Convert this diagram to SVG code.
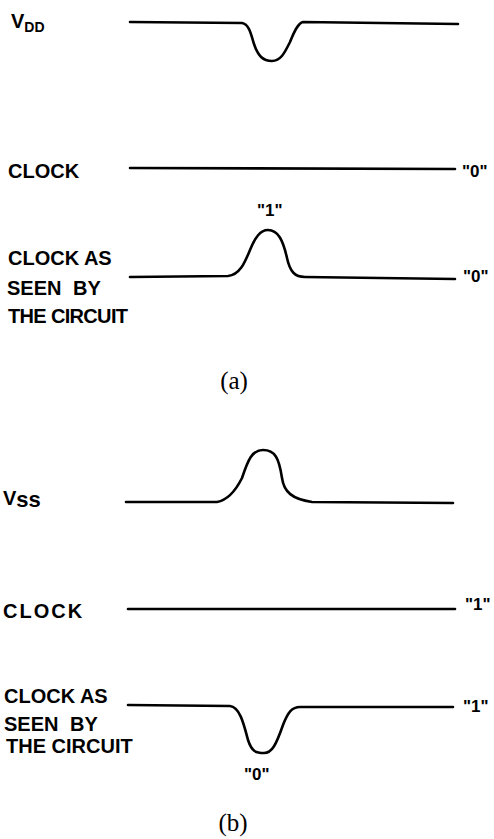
<svg xmlns="http://www.w3.org/2000/svg" width="494" height="839" viewBox="0 0 494 839">
<style>
.lbl{font-family:"Liberation Sans",Arial,sans-serif;font-weight:bold;font-size:20px;fill:#000}
.val{font-family:"Liberation Sans",Arial,sans-serif;font-weight:bold;font-size:17px;fill:#000}
.cap{font-family:"Liberation Serif","Times New Roman",serif;font-size:25px;fill:#000}
.w{fill:none;stroke:#000;stroke-width:2.6;stroke-linecap:round;stroke-linejoin:round}
</style>
<rect width="494" height="839" fill="#fff"/>
<g id="part-a">
  <g id="vdd">
    <text class="lbl" x="11" y="28" font-size="22">V<tspan font-size="14" dy="4">DD</tspan></text>
    <path class="w" d="M130,22 L242,23 C249,24 251,34 254,44 C258,56 263,61 272,61 C281,61 285,52 290,42 C294,32 298,23 303,22 L458,24"/>
  </g>
  <g id="clock-a">
    <text class="lbl" x="8" y="178">CLOCK</text>
    <path class="w" d="M130,168 L455,169"/>
    <text class="val" x="462" y="177">"0"</text>
  </g>
  <g id="seen-a">
    <text class="lbl" x="8" y="265">CLOCK AS</text>
    <text class="lbl" x="7" y="295" word-spacing="6">SEEN BY</text>
    <text class="lbl" x="8" y="323" textLength="120">THE CIRCUIT</text>
    <text class="val" x="257" y="216">"1"</text>
    <path class="w" d="M130,277 L228,276 C240,275 245,262 250,250 C255,238 260,230 268,230 C278,230 283,240 287,258 C290,272 295,277 305,277 L455,279"/>
    <text class="val" x="463" y="282">"0"</text>
  </g>
  <text class="cap" x="234" y="389" text-anchor="middle">(a)</text>
</g>
<g id="part-b">
  <g id="vss">
    <text class="lbl" x="3" y="505" font-size="22">V<tspan font-size="22" dy="2">ss</tspan></text>
    <path class="w" d="M126,502 L217,502 C228,500 236,490 242,478 C248,460 252,450 263,450 C275,450 279,458 282,478 C284,492 292,499 312,502 L453,503"/>
  </g>
  <g id="clock-b">
    <text class="lbl" x="3" y="618" letter-spacing="2">CLOCK</text>
    <path class="w" d="M128,609 L455,609"/>
    <text class="val" x="465" y="610">"1"</text>
  </g>
  <g id="seen-b">
    <text class="lbl" x="4" y="703">CLOCK AS</text>
    <text class="lbl" x="4" y="731" word-spacing="6">SEEN BY</text>
    <text class="lbl" x="6" y="753">THE CIRCUIT</text>
    <path class="w" d="M128,705 L230,706 C240,707 244,725 248,740 C252,752 256,753 264,753 C272,753 276,745 283,725 C288,712 292,707 300,707 L453,707"/>
    <text class="val" x="463" y="712">"1"</text>
    <text class="val" x="244" y="780">"0"</text>
  </g>
  <text class="cap" x="233" y="831" text-anchor="middle">(b)</text>
</g>
</svg>
